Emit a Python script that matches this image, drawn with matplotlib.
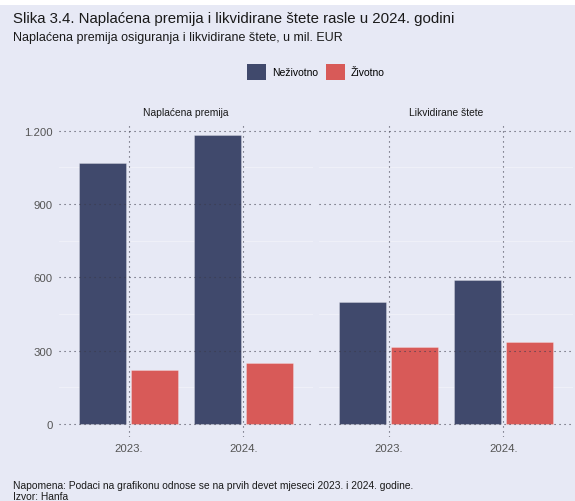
import matplotlib
matplotlib.use("Agg")
import matplotlib.pyplot as plt
from matplotlib.patches import Patch
import numpy as np

plt.rcParams['font.family'] = ['Liberation Sans', 'DejaVu Sans']

# ---- data ----
panels = ["Naplaćena premija", "Likvidirane štete"]
years = ["2023.", "2024."]
series_names = ["Neživotno", "Životno"]
nezivotno = {"Naplaćena premija": [1067, 1180], "Likvidirane štete": [498, 588]}
zivotno = {"Naplaćena premija": [221, 248], "Likvidirane štete": [314, 337]}
yticks = [0, 300, 600, 900, 1200]
ytick_labels = ["0", "300", "600", "900", "1.200"]

title = "Slika 3.4. Naplaćena premija i likvidirane štete rasle u 2024. godini"
subtitle = "Naplaćena premija osiguranja i likvidirane štete, u mil. EUR"
note = "Napomena: Podaci na grafikonu odnose se na prvih devet mjeseci 2023. i 2024. godine."
source = "Izvor: Hanfa"

# ---- style ----
BG = "#e7e9f5"
C_DARK = "#40496c"
C_RED = "#d85a58"
GRID = "#3a3a4a"
TXT = "#1a1a1a"
TICK = "#555555"

W, H = 575, 502
fig = plt.figure(figsize=(W / 100, H / 100), dpi=100, facecolor=BG)

# white strip at top
fig.patches.append(plt.Rectangle((0, 1 - 6 / H), 1, 6 / H, transform=fig.transFigure,
                                 facecolor="white", edgecolor="none", zorder=0))

ax_bottom = (H - 438) / H
ax_height = 313 / H
ax_w = 254 / W
lefts = [59 / W, 319 / W]

bw = 0.41
off = 0.225
x = np.arange(len(years))

axes = []
for i, p in enumerate(panels):
    ax = fig.add_axes([lefts[i], ax_bottom, ax_w, ax_height])
    ax.set_facecolor(BG)
    for s in ax.spines.values():
        s.set_visible(False)
    ax.bar(x - off, nezivotno[p], width=bw, color=C_DARK,
           edgecolor=(1, 1, 1, 0.3), linewidth=0.6, zorder=1)
    ax.bar(x + off, zivotno[p], width=bw, color=C_RED,
           edgecolor=(1, 1, 1, 0.3), linewidth=0.6, zorder=1)
    ax.set_xlim(-0.605, 1.605)
    ax.set_ylim(-53, 1227)
    ax.set_xticks(x)
    ax.set_xticklabels(years)
    ax.set_yticks(yticks)
    if i == 0:
        ax.set_yticklabels(ytick_labels)
    else:
        ax.set_yticklabels([])
    ax.tick_params(axis="both", length=0, labelsize=8.2, colors=TICK)
    ax.tick_params(axis="y", pad=4.5)
    ax.tick_params(axis="x", pad=4)
    # faint minor lines below bars
    mids = (np.array(yticks[:-1]) + np.array(yticks[1:])) / 2
    for m in mids:
        ax.axhline(m, color="#f1f2f9", linewidth=0.6, zorder=0.5)
    ax.set_axisbelow(False)
    ax.grid(True, which="major", color=GRID, linestyle=(0, (1, 3.5)), linewidth=0.8, alpha=0.9)
    ax.text(0.5, 1 + 12 / 313, p, transform=ax.transAxes, ha="center", va="center",
            fontsize=7.35, color=TXT)
    axes.append(ax)

fig.text(13 / W, 1 - 18.5 / H, title, fontsize=10.8, color=TXT, ha="left", va="center")
fig.text(13 / W, 1 - 38.5 / H, subtitle, fontsize=9.0, color=TXT, ha="left", va="center")
fig.text(13 / W, 1 - 486 / H, note, fontsize=7.35, color=TXT, ha="left", va="center")
fig.text(13 / W, 1 - 497 / H, source, fontsize=7.35, color=TXT, ha="left", va="center")

handles = [Patch(facecolor=C_DARK, edgecolor="none"), Patch(facecolor=C_RED, edgecolor="none")]
fig.legend(handles, series_names, loc="center", bbox_to_anchor=(316 / W, 1 - 73 / H),
           ncol=2, frameon=False, fontsize=7.5, handlelength=1.85, handleheight=1.85,
           handletextpad=0.55, columnspacing=0.75, borderaxespad=0, borderpad=0)

fig.savefig("out.png", dpi=100, facecolor=BG)
